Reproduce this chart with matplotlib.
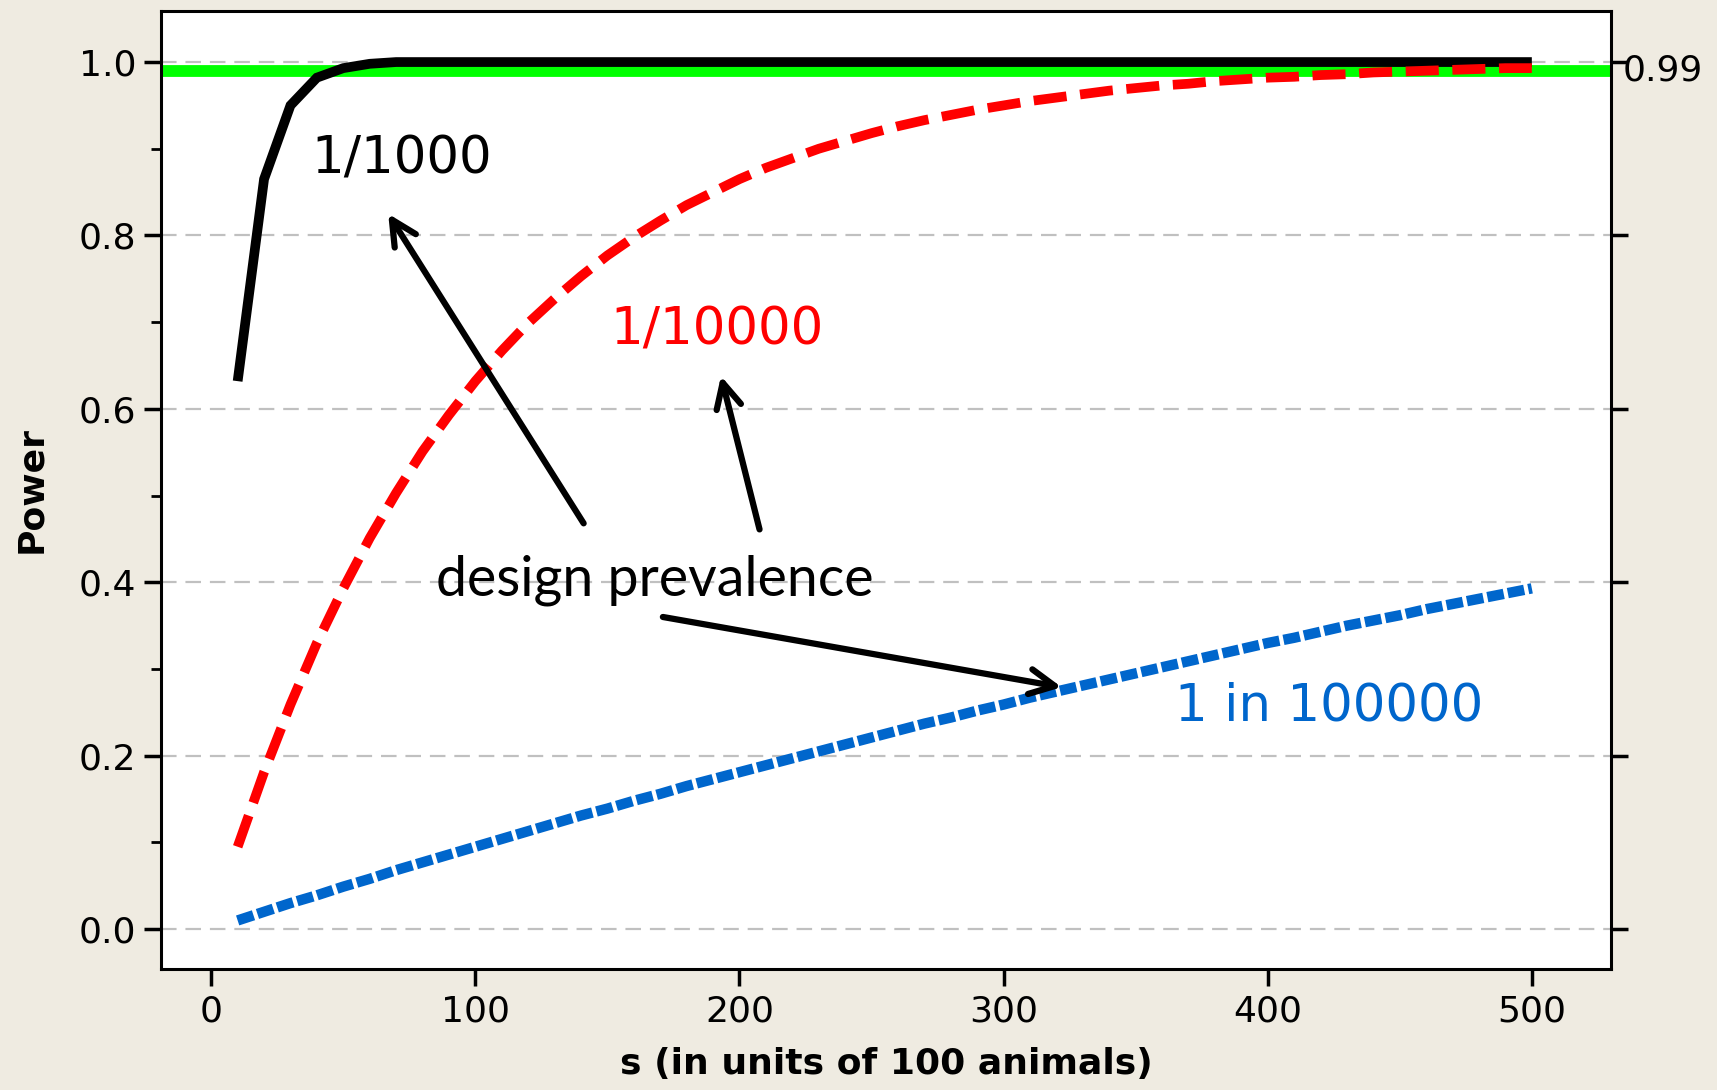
"""Power vs s (in units of 100 animals) for three design prevalences."""
import matplotlib
matplotlib.use("Agg")
import matplotlib.pyplot as plt

# s values (units of 100 animals)
s_vals = [10, 20, 30, 40, 50, 60, 70, 80, 90, 100,
          110, 120, 130, 140, 150, 160, 170, 180, 190, 200,
          210, 220, 230, 240, 250, 260, 270, 280, 290, 300,
          310, 320, 330, 340, 350, 360, 370, 380, 390, 400,
          410, 420, 430, 440, 450, 460, 470, 480, 490, 500]

# design prevalence 1/1000 (black, solid)
power_1000 = [0.632, 0.865, 0.950, 0.982, 0.993, 0.998, 1.0, 1.0, 1.0, 1.0,
              1.0, 1.0, 1.0, 1.0, 1.0, 1.0, 1.0, 1.0, 1.0, 1.0,
              1.0, 1.0, 1.0, 1.0, 1.0, 1.0, 1.0, 1.0, 1.0, 1.0,
              1.0, 1.0, 1.0, 1.0, 1.0, 1.0, 1.0, 1.0, 1.0, 1.0,
              1.0, 1.0, 1.0, 1.0, 1.0, 1.0, 1.0, 1.0, 1.0, 1.0]

# design prevalence 1/10000 (red, dashed)
power_10000 = [0.095, 0.181, 0.259, 0.330, 0.393, 0.451, 0.503, 0.551, 0.593, 0.632,
               0.667, 0.699, 0.727, 0.753, 0.777, 0.798, 0.817, 0.835, 0.850, 0.865,
               0.878, 0.889, 0.900, 0.909, 0.918, 0.926, 0.933, 0.939, 0.945, 0.950,
               0.955, 0.959, 0.963, 0.967, 0.970, 0.973, 0.975, 0.978, 0.980, 0.982,
               0.983, 0.985, 0.986, 0.988, 0.989, 0.990, 0.991, 0.992, 0.993, 0.993]

# design prevalence 1 in 100000 (blue, dotted)
power_100000 = [0.010, 0.020, 0.030, 0.039, 0.049, 0.058, 0.068, 0.077, 0.086, 0.095,
                0.104, 0.113, 0.122, 0.131, 0.139, 0.148, 0.156, 0.165, 0.173, 0.181,
                0.189, 0.197, 0.205, 0.213, 0.221, 0.229, 0.237, 0.244, 0.252, 0.259,
                0.267, 0.274, 0.281, 0.288, 0.295, 0.302, 0.309, 0.316, 0.323, 0.330,
                0.336, 0.343, 0.350, 0.356, 0.362, 0.369, 0.375, 0.381, 0.387, 0.393]

target_power = 0.99
y_ticks = [0.0, 0.2, 0.4, 0.6, 0.8, 1.0]
x_ticks = [0, 100, 200, 300, 400, 500]

plt.rcParams["font.family"] = ["DejaVu Sans"]

BG = "#efebe1"
fig = plt.figure(figsize=(17.17, 10.90), dpi=100, facecolor=BG)
ax = fig.add_axes([0.0938, 0.111, 0.8445, 0.879])
ax.set_facecolor("white")

ax.set_xlim(-19, 530)
ax.set_ylim(-0.046, 1.059)

for y in y_ticks:
    ax.axhline(y, color="#c0c0c0", lw=1.6, dashes=(7, 4), zorder=1)

ax.axhline(target_power, color="#00ff00", lw=8.5, zorder=2)
ax.plot(s_vals, power_100000, color="#0066cc", lw=7.5, dashes=(1.6, 0.4),
        solid_capstyle="butt", zorder=3)
ax.plot(s_vals, power_1000, color="black", lw=7, solid_joinstyle="miter",
        solid_capstyle="butt", zorder=4)
ax.plot(s_vals, power_10000, color="#ff0000", lw=7, dashes=(3.4, 1.4),
        zorder=5)

ax.set_xticks(x_ticks)
ax.set_yticks(y_ticks)
ax.set_yticks([0.1, 0.3, 0.5, 0.7, 0.9], minor=True)
ax.set_yticklabels([f"{v:.1f}" for v in y_ticks])
ax.tick_params(axis="both", which="major", direction="out", length=12, width=2.5,
               labelsize=26, pad=6)
ax.tick_params(axis="y", which="major", right=True)
ax.tick_params(axis="y", which="minor", direction="out", length=7, width=2)
for sp in ax.spines.values():
    sp.set_linewidth(2.2)

ax.text(1.008, target_power, "0.99", transform=ax.get_yaxis_transform(),
        fontsize=26, va="center", ha="left")

ax.set_ylabel("Power", fontsize=26, fontweight="bold", labelpad=22)
ax.set_xlabel("s (in units of 100 animals)", fontsize=26, fontweight="bold",
              labelpad=14)

ax.text(38, 0.888, "1/1000", fontsize=37, color="black", va="center", ha="left",
        zorder=6)
ax.text(151, 0.69, "1/10000", fontsize=37, color="#ff0000", va="center", ha="left",
        zorder=6)
ax.text(85, 0.402, "design prevalence", fontsize=40, color="black", va="center",
        ha="left", family=["Lato", "DejaVu Sans"], zorder=6)
ax.text(365, 0.257, "1 in 100000", fontsize=37, color="#0066cc", va="center",
        ha="left", zorder=6)

arrow_kw = dict(arrowstyle="->,head_length=0.9,head_width=0.45", color="black",
                lw=4.5, mutation_scale=20, shrinkA=0, shrinkB=0)
for tail, head in [((141, 0.468), (67, 0.825)),
                   ((207.6, 0.461), (193, 0.638)),
                   ((171, 0.360), (322, 0.279))]:
    ax.annotate("", xy=head, xytext=tail, arrowprops=arrow_kw, zorder=7)

fig.savefig("out.png", dpi=100, facecolor=BG)
